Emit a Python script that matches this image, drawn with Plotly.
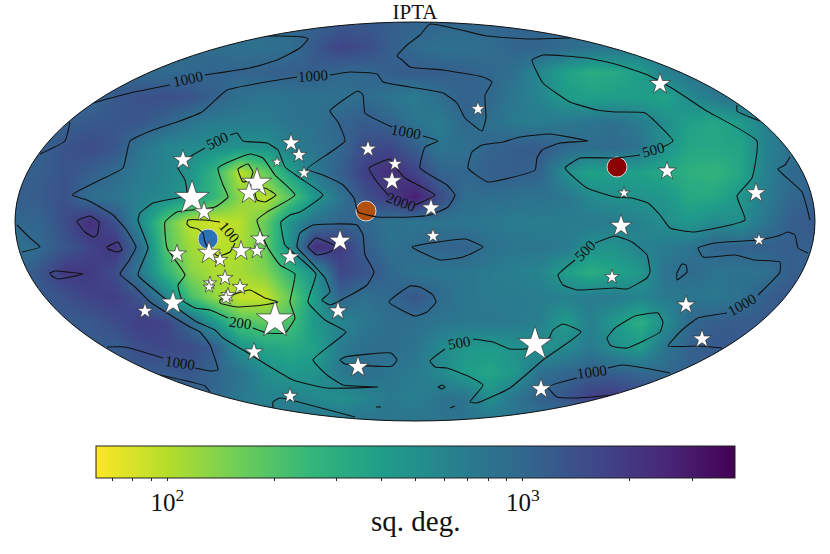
import numpy as np
import plotly.graph_objects as go

# sky map grid, positions are in map-plane units
grid_x = [15 + 25 * i for i in range(33)]
grid_y = [22 + 25 * i for i in range(17)]

# sky area in sq. deg.
area_rows = [
    [900, 900, 900, 900, 900, 900, 900, 900, 900, 900, 950, 1000, 1100, 1200, 1250, 1150, 1050, 1050, 1050, 1050, 1050, 1000, 950, 900, 900, 900, 900, 900, 900, 900, 900, 900, 900],
    [900, 900, 900, 900, 900, 900, 900, 900, 900, 850, 850, 900, 1250, 1700, 1500, 1150, 950, 850, 850, 900, 1050, 1050, 950, 850, 800, 750, 800, 850, 900, 900, 900, 900, 900],
    [950, 950, 950, 950, 950, 950, 950, 980, 1050, 1050, 1100, 1150, 1150, 1000, 1000, 1150, 1200, 1150, 1100, 1000, 850, 560, 380, 310, 330, 400, 650, 850, 900, 900, 900, 900, 900],
    [1000, 1000, 1000, 1000, 1250, 1400, 1450, 1350, 1100, 850, 800, 800, 850, 850, 950, 800, 700, 900, 1100, 1000, 750, 600, 420, 380, 400, 400, 360, 550, 750, 900, 900, 900, 900],
    [1000, 1000, 1100, 1250, 1300, 1300, 1050, 800, 700, 700, 700, 800, 850, 1050, 1200, 1050, 800, 700, 1000, 850, 720, 700, 750, 800, 850, 700, 520, 380, 340, 430, 650, 800, 800],
    [1100, 1100, 1350, 1500, 1300, 800, 600, 550, 520, 480, 480, 650, 800, 1000, 1500, 1600, 1150, 800, 850, 1050, 1150, 1200, 1000, 900, 950, 820, 480, 340, 340, 360, 620, 850, 850],
    [1100, 1150, 1350, 1150, 950, 720, 600, 470, 260, 95, 170, 380, 750, 1150, 1800, 2300, 1700, 1050, 1000, 1150, 1150, 1050, 520, 370, 400, 380, 330, 290, 270, 340, 650, 950, 1050],
    [1100, 1200, 1400, 880, 800, 650, 550, 420, 250, 130, 95, 190, 450, 800, 1400, 1900, 2800, 1500, 900, 900, 850, 830, 780, 560, 500, 480, 450, 330, 340, 450, 700, 1000, 1100],
    [1000, 1050, 1500, 2300, 1400, 550, 190, 95, 85, 100, 170, 480, 850, 1050, 1000, 800, 780, 800, 780, 750, 700, 680, 700, 720, 700, 620, 520, 440, 560, 500, 800, 1150, 1250],
    [800, 1000, 1300, 1700, 2100, 900, 200, 115, 95, 105, 170, 500, 2300, 1900, 1150, 850, 950, 1050, 1100, 850, 780, 780, 720, 500, 480, 630, 700, 800, 1050, 1100, 1100, 1150, 1100],
    [1000, 1300, 2000, 1900, 1500, 750, 280, 135, 105, 110, 140, 260, 490, 1600, 1350, 1000, 800, 780, 760, 720, 650, 600, 400, 300, 360, 450, 820, 950, 800, 800, 850, 1150, 1100],
    [1100, 1200, 1400, 1700, 1800, 1350, 650, 220, 125, 90, 90, 170, 420, 1050, 850, 1000, 1300, 950, 760, 720, 720, 680, 640, 700, 700, 600, 720, 770, 750, 850, 1150, 1300, 1200],
    [1200, 1200, 1200, 1250, 1500, 1800, 1700, 1000, 430, 200, 180, 210, 450, 600, 750, 880, 870, 780, 760, 750, 720, 650, 420, 650, 430, 300, 520, 1000, 1150, 1200, 1200, 1200, 1200],
    [1200, 1200, 1200, 1200, 1200, 1500, 1600, 1500, 1150, 480, 350, 320, 380, 700, 880, 900, 800, 560, 450, 420, 500, 480, 540, 720, 520, 420, 800, 1100, 1250, 1200, 1200, 1200, 1200],
    [1200, 1200, 1200, 1200, 1200, 1200, 1200, 1300, 1050, 800, 520, 430, 470, 750, 900, 780, 720, 560, 400, 350, 450, 850, 1000, 1150, 1100, 1000, 950, 1100, 1100, 1100, 1100, 1100, 1100],
    [1000, 1000, 1000, 1000, 1000, 1000, 1000, 1000, 1000, 750, 620, 620, 560, 500, 600, 750, 650, 800, 800, 500, 800, 1100, 1300, 1800, 2000, 1600, 1600, 1600, 1600, 1600, 1600, 1600, 1600],
    [800, 800, 800, 800, 800, 800, 800, 800, 800, 800, 800, 800, 800, 800, 800, 800, 800, 800, 800, 800, 800, 800, 800, 800, 800, 800, 800, 800, 800, 800, 800, 800, 800],
]

# contour lines, split where a label sits
lines_100 = [
    [(238, 169), (248, 164), (253, 172), (250, 180), (243, 182), (238, 169)],
    [(255, 192), (265, 188), (276, 195), (265, 202), (257, 200), (255, 192)],
    [(220, 222), (205, 220), (188, 220), (187, 224), (190, 227), (198, 229), (203, 233), (205, 242), (208, 248), (218, 256), (230, 252), (233, 247), (235, 243)],
    [(220, 300), (235, 294), (250, 290), (265, 298), (278, 302), (263, 305), (237, 307), (220, 303), (220, 300)],
]
lines_200 = [
    [(228, 318), (210, 310), (195, 308), (182, 300), (178, 285), (185, 275), (167, 248), (165, 222), (177, 212), (215, 207), (228, 197), (223, 185), (218, 168), (250, 154), (263, 158), (275, 175), (295, 195), (267, 212), (257, 220), (268, 248), (280, 265), (295, 274), (290, 302), (295, 318), (285, 333), (267, 333), (253, 328)],
]
lines_500 = [
    [(205, 148), (180, 163), (178, 168), (185, 180), (187, 195), (177, 198), (153, 203), (140, 213), (138, 220), (148, 248), (138, 275), (157, 292), (173, 305), (197, 322), (215, 330), (223, 338), (243, 350), (267, 365), (293, 380), (327, 388), (378, 387), (343, 385), (327, 375), (313, 360), (333, 343), (346, 332), (325, 320), (308, 302), (316, 274), (302, 260), (285, 245), (281, 222), (290, 215), (300, 212), (323, 195), (300, 178), (285, 167), (278, 150), (267, 143), (243, 141), (237, 133), (230, 135)],
    [(663, 147), (673, 141), (645, 113), (615, 112), (597, 110), (570, 102), (543, 83), (532, 60), (543, 55), (587, 58), (615, 64), (648, 75), (675, 90), (705, 110), (757, 141), (752, 178), (737, 196), (745, 220), (693, 232), (670, 228), (660, 215), (648, 203), (632, 198), (615, 197), (587, 188), (565, 168), (580, 158), (615, 158), (640, 155)],
    [(595, 243), (615, 236), (632, 242), (647, 255), (650, 272), (647, 278), (627, 289), (615, 288), (577, 290), (563, 285), (558, 275), (575, 260)],
    [(615, 328), (635, 316), (658, 313), (663, 322), (660, 332), (627, 348), (615, 347), (610, 345), (607, 338), (615, 328)],
    [(473, 339), (493, 342), (510, 349), (525, 349), (547, 342), (553, 330), (563, 324), (581, 332), (543, 360), (510, 388), (477, 403), (470, 402), (483, 385), (470, 377), (447, 368), (435, 367), (430, 361), (445, 349)],
    [(273, 408), (273, 402), (280, 398), (310, 405), (355, 417)],
    [(442, 385), (445, 387), (442, 389), (438, 387), (442, 385)],
    [(376, 407), (381, 407)],
    [(450, 408), (455, 406)],
]
lines_1000 = [
    [(40, 154), (65, 141), (70, 122)],
    [(93, 103), (130, 93), (170, 85)],
    [(205, 75), (250, 68), (277, 60), (300, 48), (308, 39), (303, 37), (280, 36), (230, 37), (210, 50)],
    [(297, 77), (260, 83), (227, 90), (210, 105), (202, 112), (177, 122), (153, 130), (130, 141), (123, 168), (100, 180), (72, 195), (87, 200), (100, 207), (113, 215), (125, 228), (136, 247), (128, 262), (120, 274), (135, 287), (150, 302), (167, 313), (190, 327), (200, 332), (210, 345), (217, 365), (218, 370), (210, 371), (195, 368)],
    [(163, 358), (125, 347), (107, 347)],
    [(330, 75), (350, 72), (377, 74), (383, 82), (410, 87), (443, 93), (457, 103), (465, 118), (482, 131), (486, 118), (485, 95), (492, 82), (483, 77), (443, 70), (410, 67), (402, 60), (397, 56), (407, 45), (420, 35), (430, 24), (487, 36), (527, 39), (570, 38)],
    [(392, 127), (365, 113), (363, 95), (358, 91), (330, 111), (338, 122), (345, 141), (307, 169), (323, 175), (343, 185), (354, 198), (358, 212), (377, 217), (410, 217), (430, 215), (448, 207), (455, 195), (447, 185), (420, 168), (425, 147), (438, 141), (423, 136)],
    [(468, 168), (472, 152), (482, 145), (503, 142), (520, 137), (550, 134), (588, 141), (560, 143), (542, 150), (537, 158), (535, 170), (488, 182), (468, 168)],
    [(737, 105), (737, 111), (760, 121)],
    [(790, 157), (785, 165), (778, 169), (802, 192), (810, 220)],
    [(808, 253), (798, 248), (795, 235), (788, 232), (778, 236), (758, 240), (715, 243), (698, 248), (703, 257), (735, 255), (755, 260), (780, 262), (780, 272), (758, 295)],
    [(727, 313), (698, 318), (682, 330), (668, 346), (698, 346), (722, 348)],
    [(677, 273), (682, 264), (686, 265), (687, 272), (677, 280), (677, 273)],
    [(17, 225), (30, 238), (40, 247), (22, 252)],
    [(160, 375), (205, 386), (210, 392)],
    [(670, 373), (650, 369), (622, 365), (608, 368)],
    [(577, 378), (548, 387), (557, 397), (577, 398), (615, 395)],
    [(412, 247), (465, 239), (483, 247), (463, 257), (440, 260), (412, 247)],
    [(410, 286), (420, 287), (433, 295), (436, 302), (427, 312), (415, 316), (389, 302), (410, 286)],
    [(297, 247), (300, 233), (313, 225), (357, 225), (363, 235), (365, 255), (374, 272), (367, 285), (330, 305), (322, 300), (330, 292), (325, 278), (307, 258), (297, 247)],
    [(340, 360), (345, 357), (391, 353), (397, 360), (392, 366), (345, 364), (340, 360)],
]
lines_2000 = [
    [(389, 196), (377, 182), (369, 168), (390, 159), (394, 165), (405, 178), (435, 195), (415, 205)],
    [(77, 221), (90, 216), (99, 222), (97, 235), (93, 237), (85, 232), (77, 221)],
    [(107, 247), (118, 242), (122, 250), (117, 252), (108, 249), (107, 247)],
    [(50, 273), (55, 271), (83, 274), (58, 279), (52, 276), (50, 273)],
    [(308, 247), (316, 238), (337, 247), (327, 253), (317, 255), (308, 247)],
]

# label text, where it sits and its slope
label_text = ["1000", "1000", "500", "1000", "2000", "100", "200", "500", "500", "1000", "1000", "500", "1000"]
label_x = [188, 313, 217, 406, 401, 229, 240, 585, 459, 592, 742, 653, 180]
label_y = [79, 76, 141, 132, 202, 232, 323, 251, 343, 372, 305, 150, 363]
label_angle = [-12, -3, -25, 10, 20, 50, 8, -45, -10, -8, -30, -15, 8]

star_x = [660, 478, 291, 299, 277, 304, 183, 368, 395, 392, 257, 249, 192, 204, 431, 667, 624, 756, 621, 433, 759, 340, 260, 257, 241, 220, 209, 177, 290, 612, 210, 225, 240, 209, 228, 226, 173, 145, 338, 686, 702, 275, 535, 254, 358, 541, 290]
star_y = [84, 109, 143, 155, 162, 173, 160, 149, 164, 181, 183, 193, 198, 212, 208, 171, 193, 193, 226, 236, 240, 241, 239, 251, 251, 260, 253, 254, 257, 277, 283, 278, 287, 287, 295, 298, 303, 311, 311, 305, 339, 320, 344, 352, 367, 389, 396]
star_size = [16, 11, 14, 12, 8, 10, 15, 13, 11, 15, 22, 17, 26, 15, 14, 14, 9, 15, 17, 11, 10, 17, 14, 12, 15, 12, 17, 14, 14, 11, 10, 12, 12, 9, 11, 11, 18, 12, 14, 14, 14, 28, 26, 14, 16, 15, 12]

source_x = [208, 366, 617]
source_y = [239, 211, 167]
source_color = ["#2a72b5", "#b3500f", "#8b0000"]

tick_values = [70, 80, 90, 100, 200, 300, 400, 500, 600, 700, 800, 900, 1000, 2000, 3000]
tick_labels = ["", "", "", "10<sup>2</sup>", "", "", "", "", "", "", "", "", "10<sup>3</sup>", "", ""]

AREA_MIN = 63
AREA_MAX = 3950
SERIF = "Liberation Serif"
WIDTH, HEIGHT = 830, 554
X_RANGE = [10, 820]
Y_RANGE = [426, 17]


def join_lines(lines):
    xs, ys = [], []
    for line in lines:
        xs += [p[0] for p in line] + [None]
        ys += [p[1] for p in line] + [None]
    return xs, ys


fig = go.Figure()

fig.add_trace(
    go.Heatmap(
        x=grid_x,
        y=grid_y,
        z=np.log10(np.array(area_rows, dtype=float)),
        zmin=np.log10(AREA_MIN),
        zmax=np.log10(AREA_MAX),
        zsmooth="best",
        colorscale="Viridis_r",
        hoverinfo="skip",
        colorbar=dict(
            orientation="h",
            xref="container",
            yref="container",
            x=(96 + 735) / 2 / WIDTH,
            xanchor="center",
            y=1 - 446 / HEIGHT,
            yanchor="top",
            len=639,
            lenmode="pixels",
            thickness=32,
            thicknessmode="pixels",
            xpad=0,
            ypad=0,
            outlinecolor="#222",
            outlinewidth=1,
            ticks="outside",
            ticklen=3,
            tickwidth=0.7,
            tickcolor="#222",
            tickvals=np.log10(tick_values),
            ticktext=tick_labels,
            tickfont=dict(family=SERIF, size=25, color="#111"),
        ),
    )
)

fig.add_trace(
    go.Scatter(
        x=source_x,
        y=source_y,
        mode="markers",
        marker=dict(size=20, color=source_color, opacity=1, line=dict(color="#d8d8d8", width=1)),
        hoverinfo="skip",
        showlegend=False,
    )
)

for lines in [lines_100, lines_200, lines_500, lines_1000, lines_2000]:
    xs, ys = join_lines(lines)
    fig.add_trace(
        go.Scatter(
            x=xs,
            y=ys,
            mode="lines",
            line=dict(color="#111", width=1.1, shape="spline", smoothing=0.4),
            hoverinfo="skip",
            showlegend=False,
        )
    )

fig.add_trace(
    go.Scatter(
        x=star_x,
        y=star_y,
        mode="markers",
        marker=dict(symbol="star", size=star_size, color="white", opacity=1, line=dict(color="#333", width=0.7)),
        hoverinfo="skip",
        showlegend=False,
    )
)

for text, x, y, angle in zip(label_text, label_x, label_y, label_angle):
    fig.add_annotation(
        x=x,
        y=y,
        text=text,
        textangle=angle,
        showarrow=False,
        font=dict(family=SERIF, size=15, color="#111"),
    )

fig.add_annotation(
    xref="paper",
    yref="paper",
    x=415 / WIDTH,
    y=1 - 521 / HEIGHT,
    yanchor="middle",
    text="sq. deg.",
    showarrow=False,
    font=dict(family=SERIF, size=29, color="#111"),
)

# white cover outside the ellipse, cut by winding the ellipse the other way
cx, cy, a, b = 415, 221.5, 400, 199.5
t = np.linspace(0, 2 * np.pi, 241)
ellipse = " ".join(f"L{cx + a * np.cos(v):.2f},{cy - b * np.sin(v):.2f}" for v in t)
cover = (
    f"M{X_RANGE[0]},{Y_RANGE[1]} L{X_RANGE[1]},{Y_RANGE[1]} L{X_RANGE[1]},{Y_RANGE[0]} L{X_RANGE[0]},{Y_RANGE[0]} Z "
    f"M{cx + a},{cy} {ellipse} Z"
)
fig.add_shape(type="path", path=cover, fillcolor="white", line_width=0, layer="above")
fig.add_shape(
    type="circle",
    x0=cx - a,
    x1=cx + a,
    y0=cy - b,
    y1=cy + b,
    line=dict(color="#111", width=1),
    layer="above",
)

fig.update_layout(
    width=WIDTH,
    height=HEIGHT,
    margin=dict(l=0, r=0, t=0, b=0, autoexpand=False),
    paper_bgcolor="white",
    plot_bgcolor="white",
    showlegend=False,
    title=dict(
        text="IPTA",
        x=415 / WIDTH,
        xanchor="center",
        y=1 - 12 / HEIGHT,
        yanchor="middle",
        font=dict(family=SERIF, size=21, color="#111"),
    ),
    xaxis=dict(
        range=X_RANGE,
        domain=[X_RANGE[0] / WIDTH, X_RANGE[1] / WIDTH],
        visible=False,
    ),
    yaxis=dict(
        range=Y_RANGE,
        domain=[1 - Y_RANGE[0] / HEIGHT, 1 - Y_RANGE[1] / HEIGHT],
        visible=False,
    ),
)

# the page body has a default margin, drop it so the figure fills the window
fig.write_html(
    "out.html",
    config={"displayModeBar": False},
    post_script="document.body.style.margin = '0';",
)
